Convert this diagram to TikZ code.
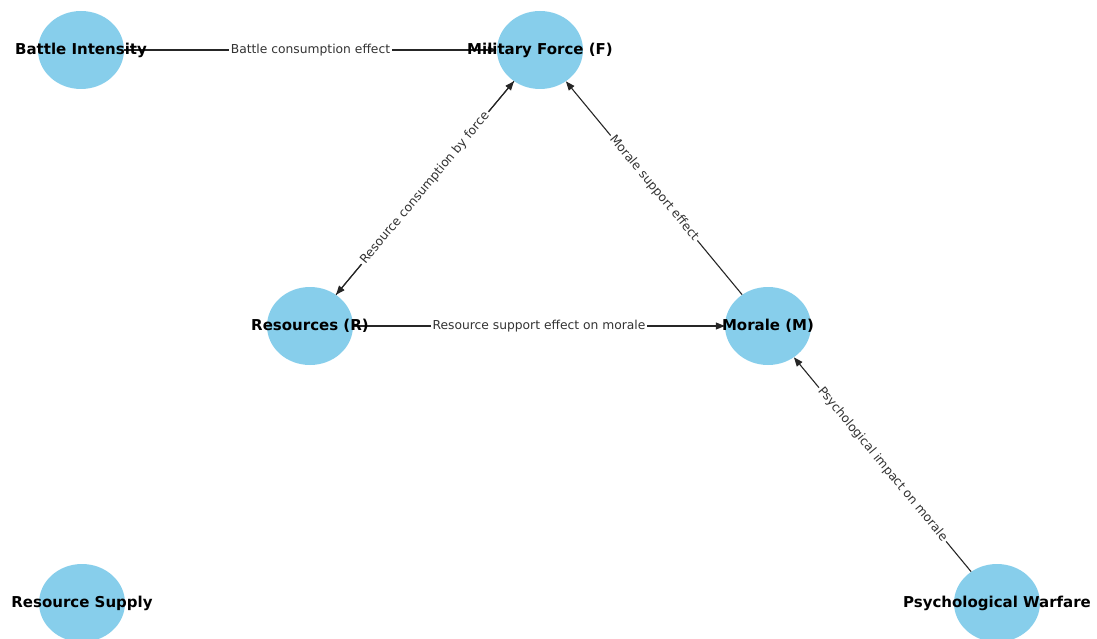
\documentclass[tikz,border=0pt]{standalone}
\usepackage{fontspec}
\setmainfont{DejaVu Sans}
\usetikzlibrary{arrows.meta,shapes.geometric}
\definecolor{skyblue}{HTML}{87CEEB}
\begin{document}
\begin{tikzpicture}
    [
    x=1pt,y=-1pt,
    factor/.style={ellipse,fill=skyblue,inner sep=0pt,minimum width=86pt,minimum height=78pt},
    caption/.style={font=\fontsize{15}{15}\selectfont\bfseries,text=black,inner sep=0pt},
    effect/.style={draw=black!85,line width=1.1pt,-{Triangle[length=9pt,width=7pt]}},
    tag/.style={font=\fontsize{12.3}{12}\selectfont,text=black!80,fill=white,inner sep=2pt,sloped,pos=0.5}
    ]
    \useasboundingbox (0,0) rectangle (1097,639);
    \clip (0,0) rectangle (1097,639);

    \node (B) at (81,50) [factor] {};
    \node (F) at (540,50) [factor] {};
    \node (R) at (310,326) [factor] {};
    \node (M) at (768,326) [factor] {};
    \node (S) at (82,603) [factor] {};
    \node (P) at (997,603) [factor] {};

    \draw [effect] (B) to node[tag] {Battle consumption effect} (F);
    \draw [effect] (F) to (R);
    \draw [effect] (R) to node[tag] {Resource consumption by force} (F);
    \draw [effect] (R) to node[tag] {Resource support effect on morale} (M);
    \draw [effect] (M) to node[tag] {Morale support effect} (F);
    \draw [effect] (P) to node[tag] {Psychological impact on morale} (M);

    \node (B-text) at (B) [caption] {Battle Intensity};
    \node (F-text) at (F) [caption] {Military Force (F)};
    \node (R-text) at (R) [caption] {Resources (R)};
    \node (M-text) at (M) [caption] {Morale (M)};
    \node (S-text) at (S) [caption] {Resource Supply};
    \node (P-text) at (P) [caption] {Psychological Warfare};
  \end{tikzpicture}
\end{document}
